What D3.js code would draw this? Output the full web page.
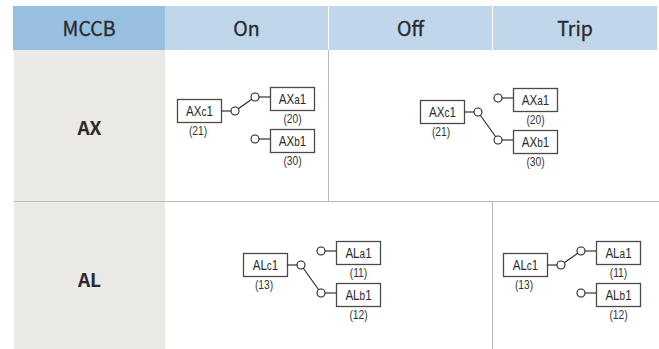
<!DOCTYPE html>
<html><head><meta charset="utf-8">
<script src="https://cdn.jsdelivr.net/npm/d3@7"></script>
<style>html,body{margin:0;padding:0;background:#fff}svg{display:block}</style>
</head><body><div id="chart"></div>
<script>
const headers = ["MCCB", "On", "Off", "Trip"];
const rowLabels = ["AX", "AL"];
const contactLetters = ["c", "a", "b"];
const axCodes = ["(21)", "(20)", "(30)"];
const alCodes = ["(13)", "(11)", "(12)"];
// which contact the common terminal touches in each diagram
const diagrams = [
  {row: "AX", state: "On",   closed: "a", ox: 177, oy: 99,  codes: axCodes},
  {row: "AX", state: "Off",  closed: "b", ox: 420, oy: 100, codes: axCodes},
  {row: "AL", state: "On",   closed: "b", ox: 243, oy: 253, codes: alCodes},
  {row: "AL", state: "Trip", closed: "a", ox: 503, oy: 253, codes: alCodes}
];

const W = 659, H = 349;
const svg = d3.select("#chart").append("svg").attr("width", W).attr("height", H);

const headFont = "'Noto Sans CJK KR','Noto Sans',sans-serif";
const diaFont = "'Liberation Sans',Arial,sans-serif";

const xHead = d3.scaleOrdinal().domain(headers).range([13, 165, 329, 493]);
const wHead = d3.scaleOrdinal().domain(headers).range([152, 163, 163, 164]);
const yRow = d3.scaleOrdinal().domain(rowLabels).range([50, 202]);
const hRow = d3.scaleOrdinal().domain(rowLabels).range([151, 147]);
const yRowText = d3.scaleOrdinal().domain(rowLabels).range([135, 287]);

// header cells
svg.selectAll("rect.head").data(headers).join("rect").attr("class", "head")
  .attr("x", d => xHead(d)).attr("y", 6).attr("width", d => wHead(d)).attr("height", 44)
  .attr("fill", (d, i) => i === 0 ? "#97bfe0" : "#c0d7eb");
svg.selectAll("text.head").data(headers).join("text").attr("class", "head")
  .attr("x", d => xHead(d) + wHead(d) / 2).attr("y", 36)
  .attr("text-anchor", "middle").attr("font-family", headFont).attr("font-weight", 400).attr("font-size", 19.5)
  .attr("fill", "#2b2b2b").attr("stroke", "#2b2b2b").attr("stroke-width", 0.35).text(d => d);

// row label cells
svg.selectAll("rect.row").data(rowLabels).join("rect").attr("class", "row")
  .attr("x", 14).attr("y", d => yRow(d)).attr("width", 151).attr("height", d => hRow(d))
  .attr("fill", "#eae9e5");
svg.selectAll("text.row").data(rowLabels).join("text").attr("class", "row")
  .attr("x", 89.5).attr("y", d => yRowText(d))
  .attr("text-anchor", "middle").attr("font-family", headFont).attr("font-weight", 700)
  .attr("font-size", 19).attr("fill", "#2b2b2b").text(d => d);

// grid lines
const rule = "#b9b9b9";
svg.append("line").attr("x1", 14).attr("x2", W).attr("y1", 201.5).attr("y2", 201.5).attr("stroke", rule);
svg.append("line").attr("x1", 328.5).attr("x2", 328.5).attr("y1", 50).attr("y2", 201).attr("stroke", rule);
svg.append("line").attr("x1", 492.5).attr("x2", 492.5).attr("y1", 202).attr("y2", 349).attr("stroke", rule);

// contact diagrams
const boxW = 44, boxH = 23, r = 4;
const squeeze = (cx, k) => `translate(${cx * (1 - k)},0) scale(${k},1)`;
diagrams.forEach(dg => {
  const g = svg.append("g").attr("transform", `translate(${dg.ox},${dg.oy})`);
  const spots = {
    c: {x: 0, y: 0, cx: 58, cy: 12, lx: 44, codeShift: -1.5},
    a: {x: 93, y: -12, cx: 78, cy: -2, lx: 93, codeShift: 0},
    b: {x: 93, y: 30, cx: 78, cy: 40, lx: 93, codeShift: 0}
  };
  contactLetters.forEach((k, i) => {
    const s = spots[k];
    const mid = s.x + boxW / 2 + .5;
    const codeMid = mid + s.codeShift;
    g.append("rect").attr("x", s.x + .5).attr("y", s.y + .5).attr("width", boxW).attr("height", boxH)
      .attr("fill", "#fff").attr("stroke", "#4a4a4a").attr("stroke-width", 1.3);
    const t = g.append("text").attr("x", mid).attr("y", s.y + 17)
      .attr("text-anchor", "middle").attr("font-family", diaFont).attr("font-size", 14.5)
      .attr("fill", "#2a2a2a").attr("transform", squeeze(mid, 0.8));
    t.append("tspan").text(dg.row);
    t.append("tspan").attr("font-size", 12.5).text(k);
    t.append("tspan").text("1");
    g.append("text").attr("x", codeMid).attr("y", s.y + 36)
      .attr("text-anchor", "middle").attr("font-family", diaFont).attr("font-size", 12.5)
      .attr("fill", "#333").attr("transform", squeeze(codeMid, 0.82))
      .text(dg.codes[i]);
    // lead from box to its circle
    g.append("line").attr("x1", s.lx).attr("x2", s.cx)
      .attr("y1", s.cy).attr("y2", s.cy).attr("stroke", "#333").attr("stroke-width", 1.2);
    g.append("circle").attr("cx", s.cx).attr("cy", s.cy).attr("r", r)
      .attr("fill", "#fff").attr("stroke", "#222").attr("stroke-width", 1.1);
  });
  // switch arm
  const a = spots.c, b = spots[dg.closed];
  const ang = Math.atan2(b.cy - a.cy, b.cx - a.cx);
  g.append("line")
    .attr("x1", a.cx + r * Math.cos(ang)).attr("y1", a.cy + r * Math.sin(ang))
    .attr("x2", b.cx - r * Math.cos(ang)).attr("y2", b.cy - r * Math.sin(ang))
    .attr("stroke", "#222").attr("stroke-width", 1.1);
});
</script></body></html>
